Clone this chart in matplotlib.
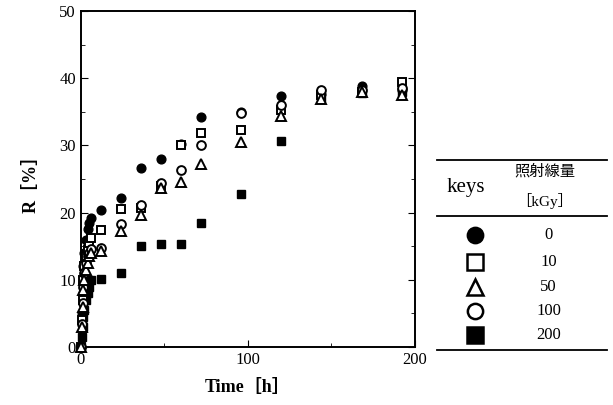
import numpy as np
import matplotlib.pyplot as plt
from matplotlib.lines import Line2D

plt.rcParams['font.family'] = ['Liberation Serif', 'Noto Sans CJK JP']

t = [0, 0.5, 1, 1.5, 2, 3, 4, 5, 6, 12, 24, 36, 48, 60, 72, 96, 120, 144, 168, 192]

r0 = [0, 5, 8, 12, 14, 16, 17.5, 18.5, 19.2, 20.4, 22.2, 26.6, 28.0, 30.2, 34.2, 34.9, 37.4, 37.6, 38.8, 38.3]
r10 = [0, 4, 7, 10, 12, 13.5, 14.5, 15.5, 16.2, 17.4, 20.6, 20.7, 23.9, 30.0, 31.8, 32.3, 35.2, 37.5, 38.0, 39.5]
r50 = [0, 3, 6, 8.5, 10, 11.5, 12.5, 13.5, 14.0, 14.3, 17.3, 19.7, 23.6, 24.6, 27.3, 30.5, 34.3, 36.9, 38.0, 37.5]
r100 = [0, 3.5, 6.5, 9, 11, 12.5, 13.5, 14.0, 14.6, 14.8, 18.3, 21.2, 24.4, 26.3, 30.1, 34.8, 36.0, 38.2, 38.3, 38.5]
r200 = [0, 1.5, 3, 4.5, 5.5, 7, 8, 9, 10, 10.2, 11.0, 15.0, 15.3, 15.3, 18.4, 22.8, 30.7, 37.0, 37.8, 38.0]

keys = ['0', '10', '50', '100', '200']

fig = plt.figure(figsize=(6.13, 4.05), dpi=100)
ax = fig.add_axes([0.132, 0.143, 0.545, 0.830])

ms = 6.3
ax.plot(t, r200, 's', color='black', ms=ms, clip_on=False, zorder=3)
ax.plot(t, r0, 'o', color='black', ms=ms, clip_on=False, zorder=3)
ax.plot(t, r10, 's', mfc='white', mec='black', mew=1.4, ms=ms, clip_on=False, zorder=3)
ax.plot(t, r100, 'o', mfc='white', mec='black', mew=1.4, ms=ms, clip_on=False, zorder=4)
ax.plot(t, r50, '^', mfc='white', mec='black', mew=1.4, ms=ms + 1, clip_on=False, zorder=4)

ax.set_xlim(0, 200)
ax.set_ylim(0, 50)
ax.set_xticks([0, 100, 200])
ax.set_xticks([50, 150], minor=True)
ax.set_yticks([0, 10, 20, 30, 40, 50])
ax.set_yticks([5, 15, 25, 35, 45], minor=True)
ax.tick_params(which='both', direction='in', right=True, labelsize=12)
ax.tick_params(which='major', length=5)
ax.tick_params(which='minor', length=3)
for s in ax.spines.values():
    s.set_linewidth(1.4)

ax.set_xlabel('Time［h］', fontsize=13, fontweight='bold', labelpad=8)
ax.set_ylabel('R［%］', fontsize=13, fontweight='bold', labelpad=14)

# legend table
lx0, lx1 = 0.713, 0.990
fig.add_artist(Line2D([lx0, lx1], [0.605, 0.605], color='black', lw=1.3))
fig.add_artist(Line2D([lx0, lx1], [0.467, 0.467], color='black', lw=1.3))
fig.add_artist(Line2D([lx0, lx1], [0.136, 0.136], color='black', lw=1.3))
fig.text(0.760, 0.536, 'keys', fontsize=15, ha='center', va='center')
fig.text(0.889, 0.576, '照射線量', fontsize=11, ha='center', va='center')
fig.text(0.889, 0.504, '［kGy］', fontsize=11, ha='center', va='center')

styles = [dict(marker='o', mfc='black', mec='black'),
          dict(marker='s', mfc='white', mec='black'),
          dict(marker='^', mfc='white', mec='black'),
          dict(marker='o', mfc='white', mec='black'),
          dict(marker='s', mfc='black', mec='black')]
ys = [0.420, 0.353, 0.291, 0.232, 0.173]
for k, st, y in zip(keys, styles, ys):
    fig.add_artist(Line2D([0.775], [y], ls='none', ms=11, mew=1.8, **st))
    fig.text(0.895, y, k, fontsize=12, ha='center', va='center')

fig.savefig('out.png', dpi=100)
